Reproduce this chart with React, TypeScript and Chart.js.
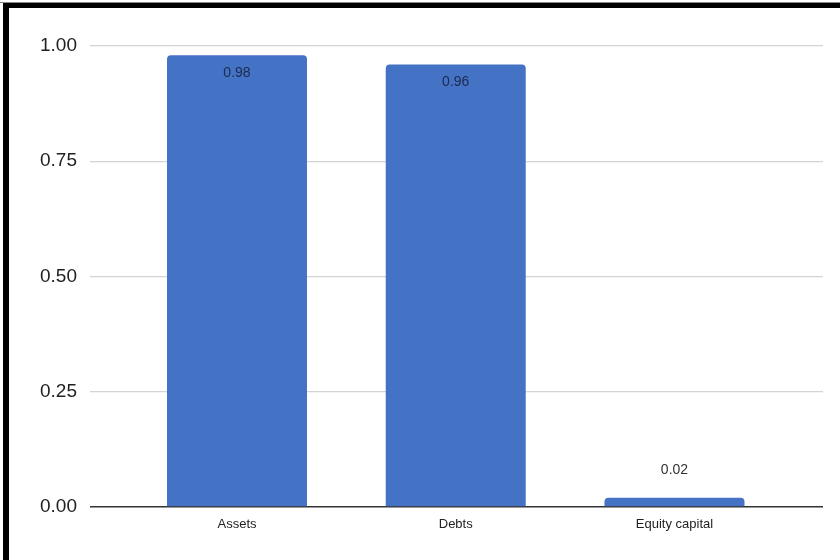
import React, { useEffect, useRef } from "react";
import { Chart, registerables } from "chart.js";

Chart.register(...registerables);

const categories = ["Assets", "Debts", "Equity capital"];
const values = [0.98, 0.96, 0.02];
const yTicks = [0, 0.25, 0.5, 0.75, 1];

const BAR_COLOR = "#4472C4";

const valueLabels = {
  id: "valueLabels",
  afterDatasetsDraw(chart: any) {
    const ctx = chart.ctx;
    const meta = chart.getDatasetMeta(0);
    ctx.save();
    ctx.textAlign = "center";
    ctx.textBaseline = "middle";
    ctx.font = "14px 'Liberation Sans', Arial, sans-serif";
    meta.data.forEach((el: any, i: number) => {
      const v = values[i];
      const inside = v >= 0.5;
      ctx.fillStyle = inside ? "#1c2b4f" : "#333333";
      const y = inside ? el.y + 18 : el.y - 28;
      ctx.fillText(v.toFixed(2), el.x, y);
    });
    ctx.restore();
  },
};

export default function App() {
  const canvasRef = useRef<HTMLCanvasElement | null>(null);

  useEffect(() => {
    document.body.style.margin = "0";
    const canvas = canvasRef.current;
    if (!canvas) return;
    const chart = new Chart(canvas, {
      type: "bar",
      data: {
        datasets: [
          {
            data: values.map((v, i) => ({ x: i, y: v })),
            backgroundColor: BAR_COLOR,
            borderRadius: { topLeft: 4, topRight: 4, bottomLeft: 0, bottomRight: 0 },
            borderSkipped: "start",
            barPercentage: 0.64,
            categoryPercentage: 1,
          },
        ],
      },
      options: {
        animation: false,
        responsive: false,
        maintainAspectRatio: false,
        layout: { padding: { left: 0, right: 17, top: 46, bottom: 0 } },
        plugins: {
          legend: { display: false },
          tooltip: { enabled: false },
        },
        scales: {
          x: {
            type: "linear",
            min: -0.672,
            max: 2.679,
            offset: false,
            grid: { display: false, drawTicks: false },
            border: { display: false },
            afterBuildTicks: (scale: any) => {
              scale.ticks = categories.map((_, i) => ({ value: i }));
            },
            afterFit: (scale: any) => {
              scale.height = 53;
            },
            ticks: {
              padding: 10,
              maxRotation: 0,
              autoSkip: false,
              color: "#222222",
              font: { family: "'Liberation Sans', Arial, sans-serif", size: 13 },
              callback: (v: any) => categories[Number(v)] ?? "",
            },
          },
          y: {
            min: 0,
            max: 1,
            afterBuildTicks: (scale: any) => {
              scale.ticks = yTicks.map((v) => ({ value: v }));
            },
            afterFit: (scale: any) => {
              scale.width = 90;
            },
            border: { display: false },
            grid: {
              drawTicks: false,
              color: (c: any) => (c.tick && c.tick.value === 0 ? "#333333" : "#d4d4d4"),
              lineWidth: (c: any) => (c.tick && c.tick.value === 0 ? 1.5 : 1.2),
            },
            ticks: {
              padding: 13,
              color: "#222222",
              font: { family: "'Liberation Sans', Arial, sans-serif", size: 19 },
              callback: (v: any) => Number(v).toFixed(2),
            },
          },
        },
      },
      plugins: [valueLabels],
    } as any);
    return () => chart.destroy();
  }, []);

  return (
    <div style={{ position: "relative", width: 840, height: 560, background: "#ffffff", overflow: "hidden" }}>
      <canvas ref={canvasRef} width={840} height={560} style={{ display: "block" }} />
      <div style={{ position: "absolute", left: 0, top: 2, width: 840, height: 1, background: "#888888" }} />
      <div style={{ position: "absolute", left: 3, top: 3, width: 837, height: 5, background: "#000000" }} />
      <div style={{ position: "absolute", left: 3, top: 3, width: 6, height: 557, background: "#000000" }} />
    </div>
  );
}
